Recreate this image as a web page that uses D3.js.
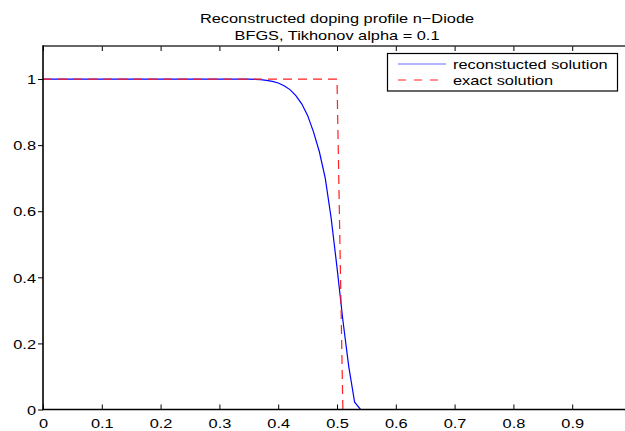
<!DOCTYPE html>
<html>
<head>
<meta charset="utf-8">
<script src="https://cdn.jsdelivr.net/npm/d3@7/dist/d3.min.js"></script>
<style>
  body { margin: 0; background: #fff; }
  text { font-family: "Liberation Sans", Arial, sans-serif; fill: #000; }
</style>
</head>
<body>
<div id="chart"></div>
<script>
"use strict";

// reconstructed doping profile (BFGS)
const gridX = [0, 0.33, 0.34, 0.35, 0.36, 0.37, 0.38, 0.39, 0.40, 0.41, 0.42, 0.43, 0.44,
    0.45, 0.46, 0.47, 0.48, 0.49, 0.50, 0.51, 0.52, 0.53, 0.54, 0.55, 1];
const reconstructed = [1, 1, 1, 1, 0.999, 0.998, 0.996, 0.993, 0.988, 0.98, 0.968, 0.95, 0.925,
    0.89, 0.84, 0.78, 0.70, 0.58, 0.43, 0.27, 0.13, 0.022, 0, 0, 0];

// exact step profile
const exactX = [0, 0.5, 0.51, 1];
const exactY = [1, 1, 0, 0];

// x = 1 lies just outside the picture, so it gets no label
const xTicks = [0, 0.1, 0.2, 0.3, 0.4, 0.5, 0.6, 0.7, 0.8, 0.9];
const yTicks = [0, 0.2, 0.4, 0.6, 0.8, 1];
const titleLines = ["Reconstructed doping profile n\u2212Diode", "BFGS, Tikhonov alpha = 0.1"];
const legendLabels = ["reconstucted solution", "exact solution"];

const W = 625, H = 431;
const margin = {top: 46, right: -6, bottom: 21.5, left: 43};
const fontSize = 13, stretch = 1.26;   // text in the picture is wider than tall

const svg = d3.select("#chart").append("svg")
    .attr("width", W)
    .attr("height", H);

const x = d3.scaleLinear().domain([0, 1]).range([margin.left, W - margin.right]);
const y = d3.scaleLinear().domain([0, 1.1]).range([H - margin.bottom, margin.top]);

const textT = (tx, ty) => `translate(${tx},${ty}) scale(${stretch},1)`;

// title
svg.selectAll("text.title")
    .data(titleLines)
    .enter().append("text")
    .attr("class", "title")
    .attr("text-anchor", "middle")
    .attr("font-size", fontSize)
    .attr("transform", (d, i) => textT(337, 23 + i * 17))
    .text(d => d);

// bottom axis, ticks inward
const xAxis = svg.append("g")
    .attr("transform", `translate(0,${y(0)})`)
    .call(d3.axisBottom(x).tickValues(xTicks).tickSizeInner(-5).tickSizeOuter(0).tickFormat(d3.format("")));
xAxis.select(".domain").remove();
xAxis.selectAll(".tick line").attr("stroke", "#000");
xAxis.selectAll(".tick text")
    .attr("y", null).attr("dy", null)
    .attr("font-size", fontSize)
    .attr("transform", textT(0, 18));

// top ticks
svg.append("g")
    .attr("transform", `translate(0,${y(1.1)})`)
    .call(d3.axisTop(x).tickValues(xTicks).tickSizeInner(-5).tickSizeOuter(0).tickFormat(""))
    .select(".domain").remove();

// left axis, ticks outward
const yAxis = svg.append("g")
    .attr("transform", `translate(${x(0)},0)`)
    .call(d3.axisLeft(y).tickValues(yTicks).tickSizeInner(5).tickSizeOuter(0).tickFormat(d3.format("")));
yAxis.select(".domain").remove();
yAxis.selectAll(".tick text")
    .attr("x", null).attr("dy", "0.36em")
    .attr("font-size", fontSize)
    .attr("transform", textT(-7, 0));

// right ticks, inward
svg.append("g")
    .attr("transform", `translate(${x(1)},0)`)
    .call(d3.axisRight(y).tickValues(yTicks).tickSizeInner(-6).tickSizeOuter(0).tickFormat(""))
    .select(".domain").remove();

// axes box
const box = svg.append("g").attr("fill", "none");
box.append("line")
    .attr("x1", x(0)).attr("x2", x(1)).attr("y1", y(1.1)).attr("y2", y(1.1))
    .attr("stroke", "#333").attr("stroke-width", 1.6);
box.append("line")
    .attr("x1", x(0)).attr("x2", x(0)).attr("y1", y(1.1) - 0.8).attr("y2", y(0))
    .attr("stroke", "#000").attr("stroke-width", 1.6);

// curves
const line = d3.line().x(d => x(d[0])).y(d => y(d[1]));

svg.append("path")
    .datum(d3.zip(gridX, reconstructed))
    .attr("fill", "none")
    .attr("stroke", "#0000ff")
    .attr("stroke-width", 1.2)
    .attr("d", line);

svg.append("path")
    .datum(d3.zip(exactX, exactY))
    .attr("fill", "none")
    .attr("stroke", "#ff2020")
    .attr("stroke-width", 1.2)
    .attr("stroke-dasharray", "9,6")
    .attr("d", line);

// bottom axis line drawn over curves
box.raise();
box.append("line")
    .attr("x1", x(0) - 0.8).attr("x2", x(1)).attr("y1", y(0)).attr("y2", y(0))
    .attr("stroke", "#000").attr("stroke-width", 1.6);

// legend
const legend = svg.append("g");
legend.append("rect")
    .attr("x", 387.5).attr("y", 53.5).attr("width", 230).attr("height", 37.5)
    .attr("fill", "#fff").attr("stroke", "#000").attr("stroke-width", 1.2);

const legendStyles = [
    {color: "#6a6aff", dash: null},
    {color: "#ff2020", dash: "8,8"}
];
legendLabels.forEach((label, i) => {
    const ly = 64 + i * 16;
    legend.append("line")
        .attr("x1", 398).attr("x2", 446).attr("y1", ly).attr("y2", ly)
        .attr("stroke", legendStyles[i].color)
        .attr("stroke-width", 1.2)
        .attr("stroke-dasharray", legendStyles[i].dash);
    legend.append("text")
        .attr("font-size", fontSize)
        .attr("transform", textT(453, ly + 5))
        .text(label);
});
</script>
</body>
</html>
